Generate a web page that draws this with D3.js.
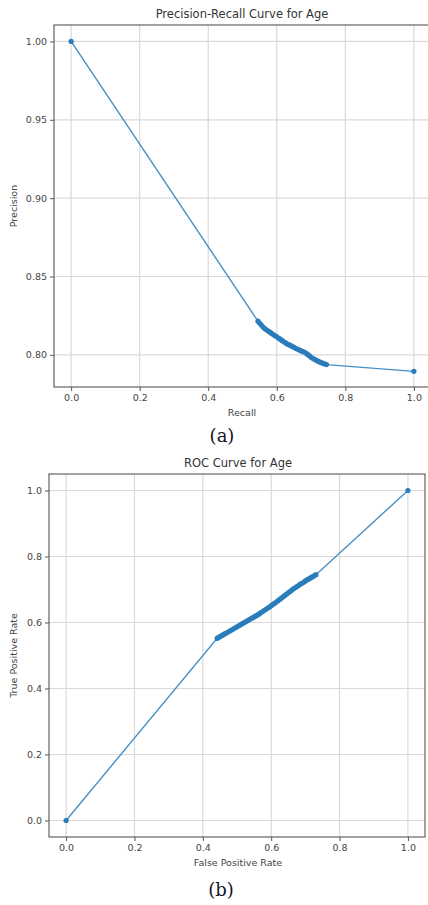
<!DOCTYPE html>
<html><head><meta charset="utf-8">
<script src="https://cdn.jsdelivr.net/npm/d3@7"></script>
<style>body{margin:0;background:#fff;}svg{display:block;}</style>
</head><body>
<svg id="c" width="428" height="905"></svg>
<script>
// ---- Data ----
const prRecall = [0.0, 0.545,0.550,0.555,0.560,0.565,0.570,0.575,0.580,0.585,0.590,0.595,0.600,0.605,0.610,0.615,0.620,0.625,0.630,0.635,0.640,0.645,0.650,0.655,0.660,0.665,0.670,0.675,0.680,0.685,0.690,0.695,0.700,0.705,0.710,0.715,0.720,0.725,0.730,0.735,0.740,0.745, 1.0];
const prPrecision = [1.0, 0.8215,0.8203,0.8190,0.8178,0.8168,0.8160,0.8152,0.8145,0.8137,0.8130,0.8122,0.8115,0.8107,0.8100,0.8092,0.8085,0.8078,0.8070,0.8065,0.8060,0.8054,0.8048,0.8042,0.8037,0.8032,0.8027,0.8022,0.8018,0.8012,0.8003,0.7995,0.7985,0.7978,0.7972,0.7966,0.7960,0.7955,0.7950,0.7946,0.7942,0.7938, 0.7895];
const rocFpr = [0.0, 0.442,0.445,0.450,0.455,0.460,0.465,0.470,0.475,0.480,0.485,0.490,0.495,0.500,0.505,0.510,0.515,0.520,0.525,0.530,0.535,0.540,0.545,0.550,0.555,0.560,0.565,0.570,0.575,0.580,0.585,0.590,0.595,0.600,0.605,0.610,0.615,0.620,0.625,0.630,0.635,0.640,0.645,0.650,0.655,0.660,0.665,0.670,0.675,0.680,0.685,0.690,0.695,0.700,0.705,0.710,0.715,0.720,0.725,0.731, 1.0];
const rocTpr = [0.0, 0.552,0.554,0.557,0.560,0.563,0.566,0.569,0.572,0.575,0.578,0.581,0.584,0.587,0.590,0.593,0.596,0.599,0.602,0.605,0.608,0.611,0.614,0.617,0.620,0.623,0.626,0.630,0.633,0.637,0.640,0.644,0.647,0.651,0.655,0.658,0.662,0.666,0.670,0.674,0.678,0.682,0.686,0.690,0.694,0.698,0.702,0.705,0.709,0.712,0.716,0.719,0.722,0.726,0.729,0.732,0.735,0.738,0.741,0.745, 1.0];
const prXTicks = [0.0,0.2,0.4,0.6,0.8,1.0];
const prYTicks = [0.80,0.85,0.90,0.95,1.00];
const rocXTicks = [0.0,0.2,0.4,0.6,0.8,1.0];
const rocYTicks = [0.0,0.2,0.4,0.6,0.8,1.0];

const svg = d3.select("#c");
const blue = "#2a7cba";
const font = "DejaVu Sans, sans-serif";

function panel(o){
  const x = d3.scaleLinear().domain(o.xDom).range([o.L, o.R]);
  const y = d3.scaleLinear().domain(o.yDom).range([o.B, o.T]);
  const g = svg.append("g");
  // grid
  g.append("g").selectAll("line").data(o.xTicks).join("line")
    .attr("x1",d=>x(d)).attr("x2",d=>x(d)).attr("y1",o.T).attr("y2",o.B)
    .attr("stroke","#d9d9d9").attr("stroke-width",1.2);
  g.append("g").selectAll("line").data(o.yTicks).join("line")
    .attr("x1",o.L).attr("x2",o.R).attr("y1",d=>y(d)).attr("y2",d=>y(d))
    .attr("stroke","#d9d9d9").attr("stroke-width",1.2);
  // axes
  const xa = g.append("g").attr("transform",`translate(0,${o.B})`)
    .call(d3.axisBottom(x).tickValues(o.xTicks).tickFormat(d3.format(o.xFmt)).tickSize(4).tickPadding(3));
  const ya = g.append("g").attr("transform",`translate(${o.L},0)`)
    .call(d3.axisLeft(y).tickValues(o.yTicks).tickFormat(d3.format(o.yFmt)).tickSize(4).tickPadding(3));
  [xa,ya].forEach(a=>{
    a.select(".domain").remove();
    a.selectAll("line").attr("stroke","#555");
    a.selectAll("text").attr("fill","#444").style("font-family",font).style("font-size","9.5px");
  });
  // spines
  g.append("rect").attr("x",o.L).attr("y",o.T).attr("width",o.R-o.L).attr("height",o.B-o.T)
    .attr("fill","none").attr("stroke","#555").attr("stroke-width",1.1);
  // data
  const pts = o.xs.map((v,i)=>[v,o.ys[i]]);
  g.append("path").datum(pts)
    .attr("d", d3.line().x(d=>x(d[0])).y(d=>y(d[1])))
    .attr("fill","none").attr("stroke","#4690c8").attr("stroke-width",1.4);
  g.append("g").selectAll("circle").data(pts).join("circle")
    .attr("cx",d=>x(d[0])).attr("cy",d=>y(d[1])).attr("r",2.6).attr("fill",blue);
  // texts
  g.append("text").attr("x",o.titleX).attr("y",o.T-7).attr("text-anchor","middle")
    .style("font-family",font).style("font-size","11.5px").attr("fill","#333").text(o.title);
  g.append("text").attr("x",o.titleX).attr("y",o.B+29).attr("text-anchor","middle")
    .style("font-family",font).style("font-size","9.5px").attr("fill","#444").text(o.xLabel);
  g.append("text").attr("transform",`translate(${o.yLabelX},${(o.T+o.B)/2}) rotate(-90)`).attr("text-anchor","middle")
    .style("font-family",font).style("font-size","9.5px").attr("fill","#444").text(o.yLabel);
}

panel({L:54, R:431, T:25, B:387, xDom:[-0.05,1.05], yDom:[0.7795,1.0105],
  xTicks:prXTicks, yTicks:prYTicks, xFmt:".1f", yFmt:".2f",
  xs:prRecall, ys:prPrecision, title:"Precision-Recall Curve for Age",
  xLabel:"Recall", yLabel:"Precision", titleX:242, yLabelX:17});

panel({L:49, R:425, T:474, B:837, xDom:[-0.05,1.05], yDom:[-0.05,1.05],
  xTicks:rocXTicks, yTicks:rocYTicks, xFmt:".1f", yFmt:".1f",
  xs:rocFpr, ys:rocTpr, title:"ROC Curve for Age",
  xLabel:"False Positive Rate", yLabel:"True Positive Rate", titleX:238, yLabelX:17});

svg.append("text").attr("x",222).attr("y",442).attr("text-anchor","middle")
  .style("font-family","DejaVu Serif, serif").style("font-size","18px").attr("fill","#15152a").text("(a)");
svg.append("text").attr("x",221).attr("y",896).attr("text-anchor","middle")
  .style("font-family","DejaVu Serif, serif").style("font-size","18px").attr("fill","#15152a").text("(b)");
</script>
</body></html>
